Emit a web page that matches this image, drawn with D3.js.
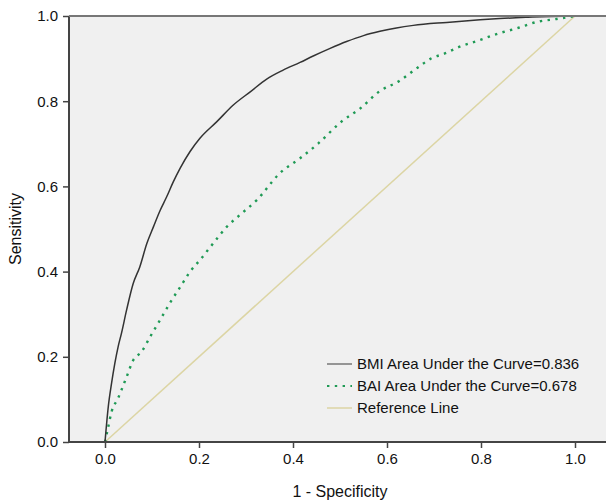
<!DOCTYPE html>
<html>
<head>
<meta charset="utf-8">
<script src="https://cdn.jsdelivr.net/npm/d3@7"></script>
<style>
  body { margin: 0; background: #fff; }
  text { font-family: Arial, "Liberation Sans", sans-serif; fill: #111; }
  .axis .domain { display: none; }
  .axis line { stroke: #444; stroke-width: 1.5; }
  .axis text { font-size: 15px; }
</style>
</head>
<body>
<script>
// data
var tickVals = [0, 0.2, 0.4, 0.6, 0.8, 1.0];

var bmiFpr  = [0, 0.007, 0.014, 0.021, 0.028, 0.035, 0.046, 0.060, 0.074, 0.089, 0.103, 0.117, 0.131, 0.145, 0.160, 0.181, 0.202, 0.238, 0.273, 0.309, 0.344, 0.379, 0.415, 0.443, 0.479, 0.514, 0.550, 0.585, 0.620, 0.656, 0.727, 0.798, 0.840, 0.900, 0.950, 1.0];
var bmiTpr  = [0, 0.083, 0.138, 0.185, 0.224, 0.255, 0.310, 0.372, 0.411, 0.466, 0.505, 0.543, 0.575, 0.610, 0.643, 0.682, 0.713, 0.752, 0.791, 0.822, 0.852, 0.873, 0.891, 0.906, 0.924, 0.940, 0.954, 0.964, 0.972, 0.978, 0.985, 0.991, 0.994, 0.997, 0.999, 1.0];

var baiFpr  = [0, 0.007, 0.014, 0.028, 0.035, 0.046, 0.060, 0.078, 0.096, 0.117, 0.138, 0.163, 0.181, 0.202, 0.230, 0.259, 0.287, 0.323, 0.372, 0.415, 0.454, 0.503, 0.543, 0.585, 0.624, 0.663, 0.695, 0.723, 0.755, 0.791, 0.840, 0.876, 0.922, 0.961, 1.0];
var baiTpr  = [0, 0.036, 0.071, 0.103, 0.122, 0.153, 0.192, 0.212, 0.247, 0.286, 0.326, 0.369, 0.400, 0.427, 0.466, 0.505, 0.533, 0.568, 0.631, 0.666, 0.701, 0.752, 0.783, 0.824, 0.846, 0.877, 0.901, 0.912, 0.928, 0.941, 0.960, 0.971, 0.987, 0.993, 1.0];

var refLine = [0, 1];

var legendLabels = ["BMI Area Under the Curve=0.836", "BAI Area Under the Curve=0.678", "Reference Line"];

// set the dimensions and margins of the graph
var margin = {top: 16, right: 0, bottom: 60, left: 69},
    width = 606 - margin.left - margin.right,
    height = 502 - margin.top - margin.bottom;

// scales (0 and 1 sit inside the plot box, with padding at both x ends)
var x = d3.scaleLinear().domain([0, 1]).range([36, 506]),
    y = d3.scaleLinear().domain([0, 1]).range([height, 0]);

var svg = d3.select("body").append("svg")
    .attr("width", width + margin.left + margin.right)
    .attr("height", height + margin.top + margin.bottom);

var g = svg.append("g")
    .attr("transform", "translate(" + margin.left + "," + margin.top + ")");

// plot background
g.append("rect")
    .attr("width", width).attr("height", height)
    .attr("fill", "#f0f0f0");

var line = d3.line()
    .x(function(d) { return x(d[0]); })
    .y(function(d) { return y(d[1]); })
    .curve(d3.curveMonotoneX);

// reference diagonal
g.append("path")
    .datum(refLine.map(function(v) { return [v, v]; }))
    .attr("d", line)
    .attr("fill", "none")
    .attr("stroke", "#dcd5a4")
    .attr("stroke-width", 1.5);

// BAI curve (green dotted)
g.append("path")
    .datum(d3.zip(baiFpr, baiTpr))
    .attr("d", line)
    .attr("fill", "none")
    .attr("stroke", "#1f9a55")
    .attr("stroke-width", 2.4)
    .attr("stroke-dasharray", "2.4,5.4");

// BMI curve (dark solid)
g.append("path")
    .datum(d3.zip(bmiFpr, bmiTpr))
    .attr("d", line)
    .attr("fill", "none")
    .attr("stroke", "#333")
    .attr("stroke-width", 1.5);

// axes
g.append("g")
    .attr("class", "axis")
    .attr("transform", "translate(0," + height + ")")
    .call(d3.axisBottom(x)
        .tickValues(tickVals)
        .tickFormat(d3.format(".1f"))
        .tickSizeOuter(0)
        .tickSizeInner(6)
        .tickPadding(5));

g.append("g")
    .attr("class", "axis")
    .call(d3.axisLeft(y)
        .tickValues(tickVals)
        .tickFormat(d3.format(".1f"))
        .tickSizeOuter(0)
        .tickSizeInner(6)
        .tickPadding(5));

// frame lines
g.append("line").attr("x1", 0).attr("x2", 0).attr("y1", 0).attr("y2", height)
    .attr("stroke", "#444").attr("stroke-width", 2);
g.append("line").attr("x1", 0).attr("x2", width).attr("y1", height).attr("y2", height)
    .attr("stroke", "#444").attr("stroke-width", 2);
g.append("line").attr("x1", 0).attr("x2", width).attr("y1", 0).attr("y2", 0)
    .attr("stroke", "#777").attr("stroke-width", 2);

// axis titles
svg.append("text")
    .attr("x", margin.left + x(0.5))
    .attr("y", 497)
    .attr("text-anchor", "middle")
    .style("font-size", "16px")
    .text("1 - Specificity");

svg.append("text")
    .attr("transform", "translate(21," + (margin.top + height / 2) + ") rotate(-90)")
    .attr("text-anchor", "middle")
    .style("font-size", "16px")
    .text("Sensitivity");

// legend
var legStyles = [
    {stroke: "#777", dash: null, w: 1.5},
    {stroke: "#1f9a55", dash: "2.4,5.4", w: 2.2},
    {stroke: "#dcd5a4", dash: null, w: 1.5}
];
var leg = g.append("g").attr("transform", "translate(258,348)");
legendLabels.forEach(function(lbl, i) {
    var row = leg.append("g").attr("transform", "translate(0," + (i * 22) + ")");
    row.append("line")
        .attr("x1", 0).attr("x2", 25).attr("y1", 0).attr("y2", 0)
        .attr("stroke", legStyles[i].stroke)
        .attr("stroke-width", legStyles[i].w)
        .attr("stroke-dasharray", legStyles[i].dash);
    row.append("text")
        .attr("x", 30).attr("y", 5)
        .style("font-size", "15px")
        .text(lbl);
});
</script>
</body>
</html>
